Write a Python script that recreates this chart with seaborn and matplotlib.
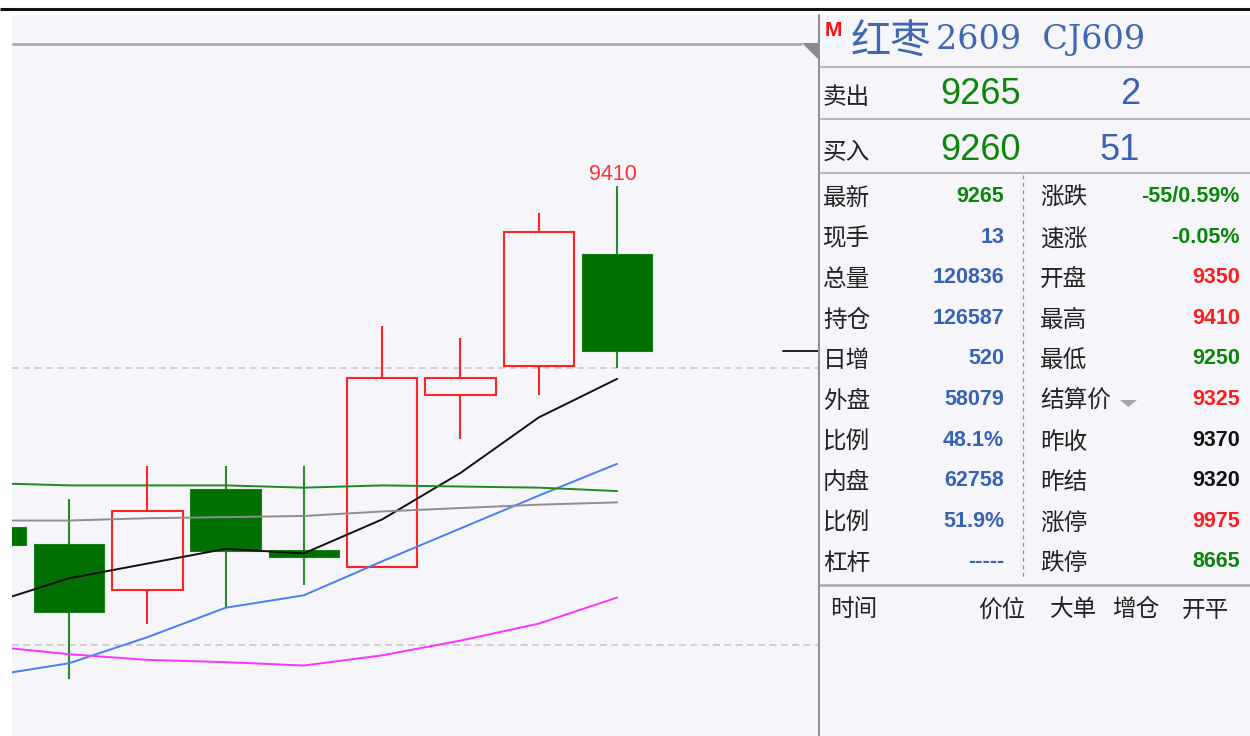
import matplotlib
matplotlib.use("Agg")
import pandas as pd
import matplotlib.pyplot as plt
import seaborn as sns
from matplotlib.patches import Polygon, Rectangle

# daily bars, the first one is cut off by the left edge
bar_idx = [0, 1, 2, 3, 4, 5, 6, 7, 8]
opens = [9109, 9094, 9054, 9143, 9089, 9074, 9226, 9251, 9350]
highs = [9115, 9134, 9163, 9163, 9163, 9287, 9276, 9386, 9410]
lows = [9085, 8975, 9024, 9038, 9058, 9073, 9187, 9226, 9250]
closes = [9093, 9034, 9123, 9088, 9083, 9241, 9241, 9370, 9265]

# moving average lines
ma_black = [9042, 9064, 9077, 9090, 9086, 9116, 9157, 9206, 9240]
ma_blue = [8978, 8989, 9012, 9038, 9049, 9079, 9108, 9137, 9165]
ma_green = [9148, 9146, 9146, 9146, 9144, 9146, 9145, 9144, 9141]
ma_gray = [9115, 9115, 9117, 9118, 9119, 9123, 9126, 9129, 9131]
ma_magenta = [9004, 8997, 8992, 8990, 8987, 8996, 9009, 9024, 9047]

grid_levels = [9250, 9005]

# quote panel
title_name = "红枣"
title_code = "2609  CJ609"
quote_labels = ["卖出", "买入"]
quote_prices = ["9265", "9260"]
quote_volumes = ["2", "51"]

left_labels = ["最新", "现手", "总量", "持仓", "日增", "外盘", "比例", "内盘", "比例", "杠杆"]
left_values = ["9265", "13", "120836", "126587", "520", "58079", "48.1%", "62758", "51.9%", "-----"]
left_kinds = ["down", "info", "info", "info", "info", "info", "info", "info", "info", "info"]
right_labels = ["涨跌", "速涨", "开盘", "最高", "最低", "结算价", "昨收", "昨结", "涨停", "跌停"]
right_values = ["-55/0.59%", "-0.05%", "9350", "9410", "9250", "9325", "9370", "9320", "9975", "8665"]
right_kinds = ["down", "down", "up", "up", "down", "up", "flat", "flat", "up", "down"]
tick_header = ["时间", "价位", "大单", "增仓", "开平"]

BG = "#f5f5fa"
RED = "#ff2222"
GREEN_BODY = "#007000"
GREEN_WICK = "#2a8a2a"
kind_colors = {"up": "#ff1e1e", "down": "#0a870a", "info": "#3a62b4", "flat": "#111111"}

sns.set_theme(style="white")
plt.rcParams["font.family"] = ["Noto Sans CJK SC", "DejaVu Sans"]
NUM = ["Liberation Sans", "DejaVu Sans"]

W, H = 1250, 736
fig = plt.figure(figsize=(W / 100, H / 100), dpi=100, facecolor="white")
ax = fig.add_axes([12 / W, 0, 806 / W, 721 / H], facecolor=BG)

# candles
for i, o, h, l, c in zip(bar_idx, opens, highs, lows, closes):
    up = c >= o
    ax.vlines(i, l, h, color=RED if up else GREEN_WICK, lw=1.5, zorder=2)
    ax.bar(i, abs(c - o), bottom=min(o, c), width=0.9,
           facecolor=BG if up else GREEN_BODY,
           edgecolor=RED if up else "#1b7d1b",
           linewidth=1.5 if up else 0.8, zorder=3)

for lv in grid_levels:
    ax.axhline(lv, color="#c6c6c6", lw=1.1, dashes=(4.6, 2.8), zorder=1)

ma_df = pd.concat([
    pd.DataFrame({"idx": bar_idx, "price": vals, "line": name})
    for name, vals in [("black", ma_black), ("blue", ma_blue), ("green", ma_green),
                       ("gray", ma_gray), ("magenta", ma_magenta)]
])
ma_colors = {"black": "#111111", "blue": "#4a7cf2", "green": "#1f8a1f",
             "gray": "#8e8e8e", "magenta": "#ff33ff"}
sns.lineplot(data=ma_df, x="idx", y="price", hue="line", palette=ma_colors,
             estimator=None, legend=False, linewidth=1.4, ax=ax, zorder=4)

ax.annotate(f"{highs[-1]}", xy=(bar_idx[-1], highs[-1]), xytext=(-4, 6),
            textcoords="offset pixels", ha="center", va="baseline",
            color="#ff3030", fontsize=15.5, family=NUM)
# last price marker at the right edge
ax.axhline(closes[-1], xmin=0.956, xmax=1.0, color="#222222", lw=1.4, zorder=4)

ax.set_xlim(0.272, 10.566)
ax.set_ylim(8924.8, 9561.2)
ax.set_xticks([])
ax.set_yticks([])
ax.set_xlabel("")
ax.set_ylabel("")
for sp in ax.spines.values():
    sp.set_visible(False)

# overlay in pixel coordinates for the frame and the quote panel
ov = fig.add_axes([0, 0, 1, 1])
ov.set_xlim(0, W)
ov.set_ylim(H, 0)
ov.axis("off")

ov.add_patch(Rectangle((820, 15), W - 820, H - 15, facecolor=BG, edgecolor="none", zorder=0))
ov.plot([0, W], [9, 9], color="#111111", lw=2.2, solid_capstyle="butt")
ov.plot([12, 802], [43.5, 43.5], color="#a2a2a2", lw=1.8, solid_capstyle="butt")
ov.add_patch(Polygon([(802, 43), (818, 43), (818, 59)], closed=True, facecolor="#8a8a8a", edgecolor="none"))
ov.plot([819, 819], [15, H], color="#8c8c8c", lw=1.4)

for y in [66.7, 119.3, 173.3]:
    ov.plot([820, W], [y, y], color="#b0b0b0", lw=1.3)
ov.plot([820, W], [585, 585], color="#a8a8a8", lw=1.8)
ov.plot([1023, 1023], [175, 580], color="#8c8c8c", lw=0.9, dashes=(3, 3))

# header
ov.text(825, 31, "M", color="#ff1010", fontsize=15, weight="bold", family=NUM, va="center")
ov.text(851, 42, title_name, color="#4068b0", fontsize=29, va="center")
ov.text(936, 40, title_code, color="#4068b0", fontsize=24, family=["DejaVu Serif"], va="center")

for k, (lab, pr, vol) in enumerate(zip(quote_labels, quote_prices, quote_volumes)):
    y = 95 + k * 55
    ov.text(823, y + 2.5, lab, color="#222222", fontsize=17, va="center")
    ov.text(1021, y, pr, color="#0a870a", fontsize=26, family=NUM, ha="right", va="center")
    ov.text(1140, y, vol, color="#3a62b4", fontsize=26, family=NUM, ha="right", va="center")

for k in range(len(left_labels)):
    y = 196.7 + k * 40.56
    ov.text(823, y + 2, left_labels[k], color="#222222", fontsize=17, va="center")
    ov.text(1004, y, left_values[k], color=kind_colors[left_kinds[k]], fontsize=15.5,
            weight="bold", family=NUM, ha="right", va="center")
    ov.text(1040, y + 2, right_labels[k], color="#222222", fontsize=17, va="center")
    ov.text(1240, y, right_values[k], color=kind_colors[right_kinds[k]], fontsize=15.5,
            weight="bold", family=NUM, ha="right", va="center")

ov.add_patch(Polygon([(1120, 400), (1137, 400), (1128.5, 407)], closed=True,
                     facecolor="#a6a6a6", edgecolor="none"))

for name, x in zip(tick_header, [830, 978, 1050, 1112, 1182]):
    ov.text(x, 610, name, color="#222222", fontsize=17, va="center")

fig.savefig("out.png", dpi=100, facecolor="white")
